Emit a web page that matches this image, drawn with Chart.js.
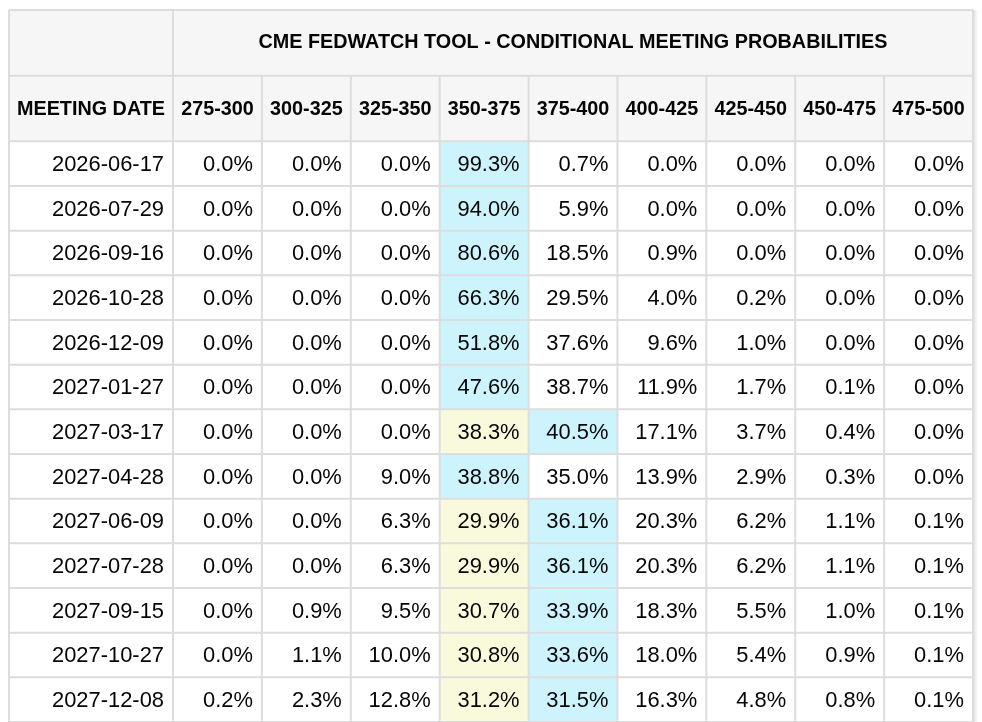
<!DOCTYPE html>
<html>
<head>
<meta charset="utf-8">
<title>CME FedWatch Tool - Conditional Meeting Probabilities</title>
<script src="https://cdn.jsdelivr.net/npm/chart.js@4.4.1/dist/chart.umd.min.js"></script>
<style>
  html, body { margin: 0; padding: 0; background: #ffffff; }
  #wrap { width: 982px; height: 722px; position: relative; }
</style>
</head>
<body>
<div id="wrap"><canvas id="fedwatch"></canvas></div>
<script>
const tableTitle = 'CME FEDWATCH TOOL - CONDITIONAL MEETING PROBABILITIES';
const dateHeader = 'MEETING DATE';

const meetingDates = [
    '2026-06-17', '2026-07-29', '2026-09-16', '2026-10-28', '2026-12-09',
    '2027-01-27', '2027-03-17', '2027-04-28', '2027-06-09', '2027-07-28',
    '2027-09-15', '2027-10-27', '2027-12-08'
];

const rateBuckets = ['275-300', '300-325', '325-350', '350-375', '375-400',
                     '400-425', '425-450', '450-475', '475-500'];

// probability (%) per target-rate bucket, one value per meeting date
const p275_300 = [0.0, 0.0, 0.0, 0.0, 0.0, 0.0, 0.0, 0.0, 0.0, 0.0, 0.0, 0.0, 0.2];
const p300_325 = [0.0, 0.0, 0.0, 0.0, 0.0, 0.0, 0.0, 0.0, 0.0, 0.0, 0.9, 1.1, 2.3];
const p325_350 = [0.0, 0.0, 0.0, 0.0, 0.0, 0.0, 0.0, 9.0, 6.3, 6.3, 9.5, 10.0, 12.8];
const p350_375 = [99.3, 94.0, 80.6, 66.3, 51.8, 47.6, 38.3, 38.8, 29.9, 29.9, 30.7, 30.8, 31.2];
const p375_400 = [0.7, 5.9, 18.5, 29.5, 37.6, 38.7, 40.5, 35.0, 36.1, 36.1, 33.9, 33.6, 31.5];
const p400_425 = [0.0, 0.0, 0.9, 4.0, 9.6, 11.9, 17.1, 13.9, 20.3, 20.3, 18.3, 18.0, 16.3];
const p425_450 = [0.0, 0.0, 0.0, 0.2, 1.0, 1.7, 3.7, 2.9, 6.2, 6.2, 5.5, 5.4, 4.8];
const p450_475 = [0.0, 0.0, 0.0, 0.0, 0.0, 0.1, 0.4, 0.3, 1.1, 1.1, 1.0, 0.9, 0.8];
const p475_500 = [0.0, 0.0, 0.0, 0.0, 0.0, 0.0, 0.0, 0.0, 0.1, 0.1, 0.1, 0.1, 0.1];

const currentTarget = '350-375';

document.addEventListener('DOMContentLoaded', function() {
    const series = [p275_300, p300_325, p325_350, p350_375, p375_400,
                    p400_425, p425_450, p450_475, p475_500];

    // table geometry in scale units (one unit = one bucket column / one data row)
    const firstColWidth = 1.845;
    const headerRowHeight = 1.47;
    const bodyTop = headerRowHeight * 2;
    const tableRight = firstColWidth + rateBuckets.length;
    const tableBottom = bodyTop + meetingDates.length;

    const fontFamily = '"Liberation Sans", Arial, Helvetica, sans-serif';
    const headerSize = 19.8;
    const bodySize = 21.9;
    const capRatio = 0.358;   // half of Arial cap height, in em
    const lineColor = '#dddddd';
    const headerFill = '#f6f6f6';
    const maxFill = '#cdf4fc';
    const targetFill = '#f9f9dc';
    const textColor = '#050505';

    // one point per cell, centred in it
    const cellPoints = [];
    meetingDates.forEach((date, r) => {
        series.forEach((values, c) => {
            cellPoints.push({x: firstColWidth + c + 0.5, y: bodyTop + r + 0.5, row: r, col: c});
        });
    });

    const tablePlugin = {
        id: 'probabilityTable',
        beforeDatasetsDraw(chart) {
            const ctx = chart.ctx;
            const xs = chart.scales.x;
            const ys = chart.scales.y;
            const px = v => xs.getPixelForValue(v);
            const py = v => ys.getPixelForValue(v);

            ctx.save();

            // soft shadow on the right edge
            const sx = px(tableRight) + 1;
            const grad = ctx.createLinearGradient(sx, 0, sx + 4, 0);
            grad.addColorStop(0, 'rgba(0,0,0,0.10)');
            grad.addColorStop(1, 'rgba(0,0,0,0)');
            ctx.fillStyle = grad;
            ctx.fillRect(sx, py(0), 4, py(tableBottom) - py(0));

            // header background
            ctx.fillStyle = headerFill;
            ctx.fillRect(px(0), py(0), px(tableRight) - px(0), py(bodyTop) - py(0));

            // highlighted cells: row maximum in cyan, current target in yellow
            meetingDates.forEach((date, r) => {
                const rowValues = series.map(s => s[r]);
                const rowMax = Math.max(...rowValues);
                rowValues.forEach((v, c) => {
                    let fill = null;
                    if (v === rowMax) fill = maxFill;
                    else if (rateBuckets[c] === currentTarget) fill = targetFill;
                    if (!fill) return;
                    const x0 = px(firstColWidth + c), x1 = px(firstColWidth + c + 1);
                    const y0 = py(bodyTop + r), y1 = py(bodyTop + r + 1);
                    ctx.fillStyle = fill;
                    ctx.fillRect(x0, y0, x1 - x0, y1 - y0);
                });
            });

            // grid lines
            ctx.strokeStyle = lineColor;
            ctx.lineWidth = 2;
            ctx.beginPath();
            const hLines = [0, headerRowHeight, bodyTop];
            for (let r = 1; r <= meetingDates.length; r++) hLines.push(bodyTop + r);
            hLines.forEach(v => {
                ctx.moveTo(px(0), py(v));
                ctx.lineTo(px(tableRight), py(v));
            });
            [0, firstColWidth, tableRight].forEach(v => {
                ctx.moveTo(px(v), py(0));
                ctx.lineTo(px(v), py(tableBottom));
            });
            for (let c = 1; c < rateBuckets.length; c++) {
                ctx.moveTo(px(firstColWidth + c), py(headerRowHeight));
                ctx.lineTo(px(firstColWidth + c), py(tableBottom));
            }
            ctx.stroke();

            // header text
            ctx.fillStyle = textColor;
            ctx.textBaseline = 'alphabetic';
            ctx.textAlign = 'center';
            ctx.font = 'bold ' + headerSize + 'px ' + fontFamily;
            ctx.fillText(tableTitle, (px(firstColWidth) + px(tableRight)) / 2,
                         py(headerRowHeight / 2) + headerSize * capRatio - 1.5);
            const labelY = py(headerRowHeight * 1.5) + headerSize * capRatio - 0.5;
            ctx.fillText(dateHeader, (px(0) + px(firstColWidth)) / 2, labelY);
            rateBuckets.forEach((b, c) => {
                ctx.fillText(b, px(firstColWidth + c + 0.5), labelY);
            });

            // body text
            ctx.font = bodySize + 'px ' + fontFamily;
            ctx.textAlign = 'right';
            const pad = 9;
            const lift = bodySize * capRatio - 0.5;
            meetingDates.forEach((date, r) => {
                ctx.fillText(date, px(firstColWidth) - pad, py(bodyTop + r + 0.5) + lift);
            });
            chart.getDatasetMeta(0).data.forEach((pt, i) => {
                const cell = cellPoints[i];
                const value = series[cell.col][cell.row];
                ctx.fillText(value.toFixed(1) + '%', px(firstColWidth + cell.col + 1) - pad, pt.y + lift);
            });

            ctx.restore();
        }
    };

    new Chart(document.getElementById('fedwatch'), {
        type: 'scatter',
        data: {
            datasets: [{
                label: 'Probability',
                data: cellPoints,
                pointRadius: 0,
                pointHoverRadius: 0
            }]
        },
        options: {
            responsive: true,
            maintainAspectRatio: false,
            animation: false,
            layout: {
                padding: {left: 9, right: 9, top: 10, bottom: 0}
            },
            scales: {
                x: {type: 'linear', min: 0, max: tableRight, display: false},
                y: {type: 'linear', min: 0, max: tableBottom, reverse: true, display: false}
            },
            plugins: {
                legend: {display: false},
                tooltip: {enabled: false}
            }
        },
        plugins: [tablePlugin]
    });
});
</script>
</body>
</html>
